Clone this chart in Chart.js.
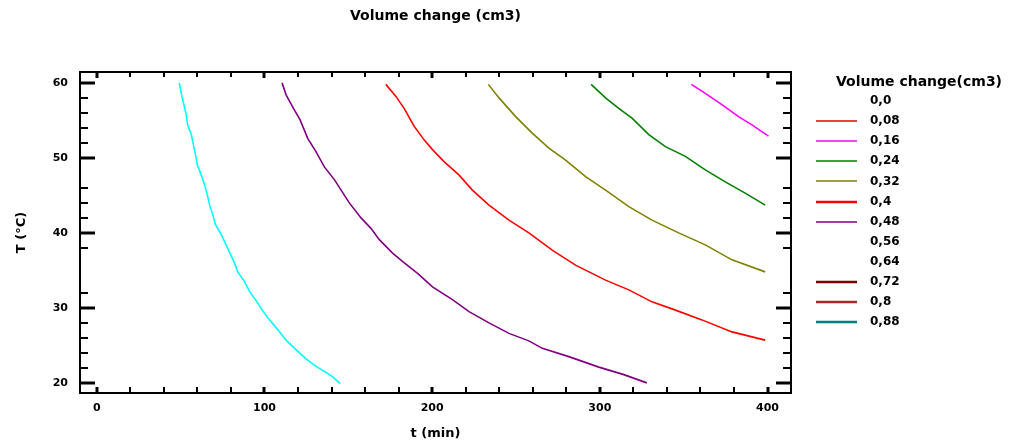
<!DOCTYPE html>
<html>
<head>
<meta charset="utf-8">
<script src="https://cdn.jsdelivr.net/npm/chart.js@4.4.1/dist/chart.umd.min.js"></script>
<style>
  body { margin: 0; background: #fff; }
</style>
</head>
<body>
<canvas id="chart" width="1009" height="441"></canvas>
<script>
// contour lines: time (min) and temperature (°C)
const time056 = [49.2, 50.6, 53.4, 54.2, 56.4, 57.7, 58.9, 59.9, 62.3, 64.3, 65.9, 67.3, 69.2, 70.8, 74.2, 79.2, 82.1, 84.1, 88.1, 91.1, 94.6, 99.0, 103.0, 107.9, 112.9, 118.9, 124.8, 130.8, 136.7, 140.7, 145.2];
const temp056 = [60.0, 58.4, 55.7, 54.4, 53.1, 51.7, 50.4, 49.1, 47.7, 46.4, 45.1, 43.7, 42.4, 41.1, 39.8, 37.4, 36.0, 34.8, 33.5, 32.2, 31.1, 29.6, 28.4, 27.1, 25.7, 24.4, 23.2, 22.2, 21.4, 20.8, 19.9];

const time048 = [110.5, 112.9, 117.3, 121.2, 125.8, 130.8, 135.7, 141.7, 145.7, 150.6, 157.6, 163.5, 168.5, 176.4, 182.3, 191.3, 200.2, 212.1, 222.0, 233.9, 245.8, 257.7, 265.7, 281.5, 299.4, 314.3, 328.0];
const temp048 = [60.0, 58.4, 56.6, 55.1, 52.6, 50.8, 48.8, 47.1, 45.7, 44.0, 42.0, 40.6, 39.1, 37.3, 36.2, 34.6, 32.8, 31.1, 29.5, 28.0, 26.6, 25.6, 24.6, 23.5, 22.1, 21.1, 20.0];

const time040 = [172.4, 178.4, 183.3, 189.3, 195.2, 200.2, 207.1, 216.1, 224.0, 233.9, 245.8, 257.7, 271.6, 285.5, 303.4, 317.3, 331.1, 345.1, 360.9, 378.8, 398.6];
const temp040 = [59.8, 58.2, 56.6, 54.2, 52.4, 51.1, 49.5, 47.7, 45.7, 43.7, 41.7, 40.0, 37.7, 35.7, 33.7, 32.4, 30.8, 29.7, 28.4, 26.8, 25.7];

const time032 = [233.5, 239.9, 249.8, 259.7, 269.6, 279.6, 291.5, 303.4, 317.3, 331.1, 347.0, 362.9, 378.8, 398.6];
const temp032 = [59.8, 58.0, 55.5, 53.3, 51.3, 49.7, 47.5, 45.7, 43.5, 41.7, 40.0, 38.4, 36.4, 34.8];

const time024 = [294.8, 303.4, 311.3, 319.2, 329.2, 339.1, 351.0, 362.9, 374.8, 386.7, 398.6];
const temp024 = [59.8, 58.0, 56.6, 55.3, 53.1, 51.5, 50.2, 48.4, 46.8, 45.3, 43.7];

const time016 = [354.6, 362.9, 372.8, 382.7, 390.7, 400.6];
const temp016 = [59.8, 58.6, 57.1, 55.5, 54.4, 52.9];

// legend levels
const levelLabels = ['0,0', '0,08', '0,16', '0,24', '0,32', '0,4', '0,48', '0,56', '0,64', '0,72', '0,8', '0,88'];
const levelColors = [null, '#e00000', '#ff00ff', '#008000', '#808000', '#ff0000', '#800080', null, null, '#800000', '#a52a2a', '#008080'];
const levelWidths = [0, 1.5, 1.5, 1.5, 1.5, 2.5, 1.5, 0, 0, 2.5, 2.5, 2.5];

// axis ticks
const xTickLabels = [0, 100, 200, 300, 400];
const xMinorTicks = [20, 40, 60, 80, 120, 140, 160, 180, 220, 240, 260, 280, 320, 340, 360, 380];
const yTickLabels = [20, 30, 40, 50, 60];
const yMinorTicks = [22, 24, 26, 28, 32, 38, 42, 44, 46, 52, 54, 56, 58];

const FONT = '"DejaVu Sans", sans-serif';

function points(times, temps) {
    return times.map((t, i) => ({ x: t, y: temps[i] }));
}

function contour(label, times, temps, color) {
    return {
        label: label,
        data: points(times, temps),
        showLine: true,
        borderColor: color,
        borderWidth: 1.6,
        pointRadius: 0,
        fill: false,
        tension: 0
    };
}

const frameTicks = {
    id: 'frameTicks',
    afterDatasetsDraw(chart) {
        const { ctx, chartArea: a } = chart;
        const xs = chart.scales.x, ys = chart.scales.y;
        const line = (x0, y0, x1, y1) => { ctx.beginPath(); ctx.moveTo(x0, y0); ctx.lineTo(x1, y1); ctx.stroke(); };
        ctx.save();
        ctx.strokeStyle = '#000';
        ctx.lineWidth = 2;
        ctx.strokeRect(a.left, a.top, a.right - a.left, a.bottom - a.top);

        ctx.lineWidth = 3;
        xTickLabels.forEach(v => {
            const px = Math.round(xs.getPixelForValue(v));
            line(px, a.bottom, px, a.bottom - 6);
            line(px, a.top, px, a.top + 6);
        });
        yTickLabels.forEach(v => {
            const py = Math.round(ys.getPixelForValue(v));
            line(a.left, py, a.left + 15, py);
            line(a.right, py, a.right - 15, py);
        });
        ctx.lineWidth = 2;
        xMinorTicks.forEach(v => {
            const px = Math.round(xs.getPixelForValue(v));
            line(px, a.bottom, px, a.bottom - 6);
            line(px, a.top, px, a.top + 5);
        });
        yMinorTicks.forEach(v => {
            const py = Math.round(ys.getPixelForValue(v));
            line(a.left, py, a.left + 8, py);
            line(a.right, py, a.right - 8, py);
        });
        ctx.restore();
    }
};

const levelLegend = {
    id: 'levelLegend',
    afterDraw(chart) {
        const { ctx, chartArea: a } = chart;
        const left = a.right + 25;
        ctx.save();
        ctx.fillStyle = '#000';
        ctx.textBaseline = 'middle';
        ctx.font = 'bold 14px ' + FONT;
        ctx.textAlign = 'center';
        ctx.fillText('Volume change(cm3)', left + 103, a.top + 10);
        ctx.font = 'bold 12px ' + FONT;
        ctx.textAlign = 'left';
        levelLabels.forEach((text, i) => {
            const y = a.top + 29 + i * 20.1;
            if (levelColors[i]) {
                ctx.strokeStyle = levelColors[i];
                ctx.lineWidth = levelWidths[i];
                ctx.beginPath();
                ctx.moveTo(left, Math.round(y));
                ctx.lineTo(left + 41, Math.round(y));
                ctx.stroke();
            }
            ctx.fillText(text, left + 54, y);
        });
        ctx.restore();
    }
};

new Chart(document.getElementById('chart'), {
    type: 'scatter',
    data: {
        datasets: [
            contour('0,56', time056, temp056, '#00ffff'),
            contour('0,48', time048, temp048, '#800080'),
            contour('0,4', time040, temp040, '#ff0000'),
            contour('0,32', time032, temp032, '#808000'),
            contour('0,24', time024, temp024, '#008000'),
            contour('0,16', time016, temp016, '#ff00ff')
        ]
    },
    options: {
        responsive: false,
        animation: false,
        layout: { padding: { left: 0, right: 218, top: 0, bottom: 0 } },
        plugins: {
            legend: { display: false },
            tooltip: { enabled: false },
            title: {
                display: true,
                text: 'Volume change (cm3)',
                fullSize: false,
                color: '#000',
                font: { family: FONT, size: 14, weight: 'bold' },
                padding: { top: 8, bottom: 47.2 }
            }
        },
        scales: {
            x: {
                type: 'linear',
                min: -10,
                max: 414,
                afterFit(scale) { scale.height = 48; },
                afterBuildTicks(scale) { scale.ticks = xTickLabels.map(v => ({ value: v })); },
                grid: { display: false, drawTicks: false },
                border: { display: false },
                ticks: { color: '#000', padding: 9, maxRotation: 0, font: { family: FONT, size: 11, weight: 'bold' } },
                title: { display: true, text: 't (min)', color: '#000', padding: { top: 2, bottom: 0 }, font: { family: FONT, size: 13, weight: 'bold' } }
            },
            y: {
                type: 'linear',
                min: 18.65,
                max: 61.45,
                afterFit(scale) { scale.width = 80; },
                afterBuildTicks(scale) { scale.ticks = yTickLabels.map(v => ({ value: v })); },
                grid: { display: false, drawTicks: false },
                border: { display: false },
                ticks: { color: '#000', padding: 12, font: { family: FONT, size: 11, weight: 'bold' } },
                title: { display: true, text: 'T (°C)', color: '#000', padding: { top: 14, bottom: 0 }, font: { family: FONT, size: 13, weight: 'bold' } }
            }
        }
    },
    plugins: [frameTicks, levelLegend]
});
</script>
</body>
</html>
